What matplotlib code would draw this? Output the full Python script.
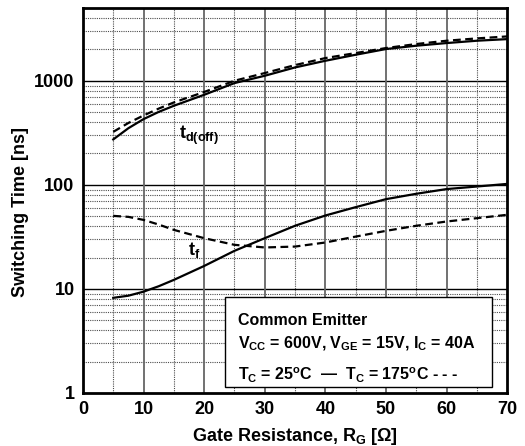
import numpy as np
import matplotlib
matplotlib.use('Agg')
import matplotlib.pyplot as plt
from matplotlib.ticker import FixedLocator, NullFormatter

plt.rcParams['font.family'] = ['Liberation Sans', 'DejaVu Sans']
plt.rcParams['font.weight'] = 'bold'
plt.rcParams['mathtext.fontset'] = 'custom'
plt.rcParams['mathtext.rm'] = 'Liberation Sans:bold'
plt.rcParams['mathtext.bf'] = 'Liberation Sans:bold'
plt.rcParams['mathtext.it'] = 'Liberation Sans:bold'

# gate resistance [ohm]
rg = [5, 7.5, 10, 12.5, 15, 20, 25, 30, 35, 40, 45, 50, 55, 60, 65, 70]

# switching times [ns]
td_off_25 = [273, 350, 428, 502, 575, 733, 950, 1117, 1343, 1556, 1778, 2018, 2172, 2303, 2425, 2513]
td_off_175 = [323, 393, 464, 540, 619, 780, 1000, 1186, 1414, 1652, 1846, 2062, 2254, 2425, 2553, 2667]
tf_25 = [8.2, 8.6, 9.4, 10.6, 12.2, 16.6, 23.2, 30.7, 40.4, 50.7, 61, 72.8, 82, 91, 96.3, 102]
tf_175 = [50.3, 49.2, 46, 41.5, 36.9, 30.7, 26.5, 25, 25.5, 27.9, 31.8, 36.1, 40.4, 44.4, 47.8, 51.5]

x_ticks = [0, 10, 20, 30, 40, 50, 60, 70]
y_ticks = [1, 10, 100, 1000]

fig = plt.figure(figsize=(5.25, 4.46), dpi=100)
ax = fig.add_axes([0.158, 0.119, 0.808, 0.863])

ax.set_yscale('log')
ax.set_xlim(0, 70)
ax.set_ylim(1, 5000)

# grid
minor_y = [m * 10 ** d for d in range(0, 4) for m in range(2, 10) if m * 10 ** d < 5000]
for v in minor_y:
    ax.axhline(v, color='0.3', lw=0.8, ls=(0, (1, 1)), zorder=1)
for v in y_ticks[1:]:
    ax.axhline(v, color='black', lw=1.0, zorder=1)
for v in range(5, 70, 10):
    ax.axvline(v, color='0.3', lw=0.8, ls=(0, (1, 1)), zorder=1)
for v in range(10, 70, 10):
    ax.axvline(v, color='0.4', lw=1.3, zorder=1)

ax.plot(rg, td_off_25, color='black', lw=1.6, zorder=3)
ax.plot(rg, td_off_175, color='black', lw=1.6, ls=(0, (3.5, 2)), zorder=3)
ax.plot(rg, tf_25, color='black', lw=1.6, zorder=3)
ax.plot(rg, tf_175, color='black', lw=1.6, ls=(0, (3.5, 2)), zorder=3)

ax.text(15.8, 300, r't$_{\rm d(off)}$', fontsize=13, ha='left', va='center', zorder=4)
ax.text(17.4, 23.5, r't$_{\rm f}$', fontsize=13, ha='left', va='center', zorder=4)

ax.xaxis.set_major_locator(FixedLocator(x_ticks))
ax.yaxis.set_major_locator(FixedLocator(y_ticks))
ax.yaxis.set_minor_locator(FixedLocator([]))
ax.yaxis.set_minor_formatter(NullFormatter())
ax.set_xticklabels([str(v) for v in x_ticks], fontsize=13, fontweight='bold')
ax.set_yticklabels([str(v) for v in y_ticks], fontsize=13, fontweight='bold')
ax.tick_params(axis='both', which='both', length=0, pad=6)

for s in ax.spines.values():
    s.set_linewidth(2.0)
    s.set_zorder(5)

ax.set_xlabel(r'Gate Resistance, R$_{\rm G}$ [$\Omega$]', fontsize=13, fontweight='bold')
ax.set_ylabel('Switching Time [ns]', fontsize=13, fontweight='bold')
ax.xaxis.set_label_coords(0.5, -0.085)
ax.yaxis.set_label_coords(-0.128, 0.47)

# condition box
box = plt.Rectangle((0.335, 0.016), 0.63, 0.232, transform=ax.transAxes,
                    facecolor='white', edgecolor='black', lw=1.0, zorder=6)
ax.add_patch(box)
ax.text(0.366, 0.188, 'Common Emitter', transform=ax.transAxes, fontsize=11.5,
        va='center', ha='left', zorder=7)
ax.text(0.366, 0.127, r'V$_{\rm CC}$ = 600V, V$_{\rm GE}$ = 15V, I$_{\rm C}$ = 40A',
        transform=ax.transAxes, fontsize=11.5, va='center', ha='left', zorder=7)
ax.text(0.366, 0.045, r'T$_{\rm C}$ = 25$^{\rm o}$C  —  T$_{\rm C}$ = 175$^{\rm o}$C - - -',
        transform=ax.transAxes, fontsize=11.5, va='center', ha='left', zorder=7)

fig.savefig('out.png', dpi=100)
